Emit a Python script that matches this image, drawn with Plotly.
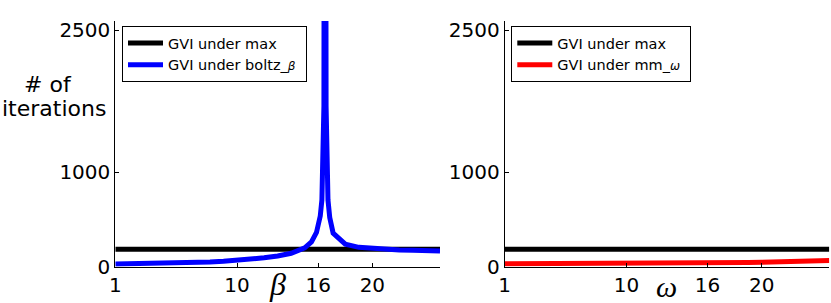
import plotly.graph_objects as go

# ---- data ----
max_x = [1, 5, 10, 15, 20, 25]
max_y = [185, 185, 184, 184, 184, 184]

beta_x = [1, 2, 3, 4, 5, 6, 7, 8, 9, 10, 11, 12, 13, 14, 15, 15.5, 15.87, 16.15, 16.27,
          16.42, 16.5, 16.58, 16.72, 16.85, 17.1, 18, 19, 20, 21, 22, 23, 24, 25]
boltz_y = [28, 30, 32, 35, 38, 41, 45, 51, 58, 67, 79, 94, 114, 142, 200, 262, 362, 537, 706,
           1700, 12000, 1700, 706, 520, 355, 238, 205, 192, 184, 178, 174, 170, 166]

omega_x = list(range(1, 26))
mm_y = [31, 31, 31, 32, 32, 32, 33, 33, 33, 34, 34, 35, 35, 36, 37, 38, 40, 42, 44, 46,
        49, 52, 56, 61, 66]

x_ticks = [1, 10, 16, 20]
y_ticks = [0, 1000, 2500]

W, H = 831, 303
FONT = "DejaVu Sans"

fig = go.Figure()
fig.add_trace(go.Scatter(x=max_x, y=max_y, mode="lines", name="GVI under max&nbsp;&nbsp;&nbsp;&nbsp;&nbsp;",
                         line=dict(color="black", width=5), xaxis="x", yaxis="y",
                         legend="legend"))
fig.add_trace(go.Scatter(x=beta_x, y=boltz_y, mode="lines",
                         name="GVI under boltz_<i><span style='font-size:12px'>β</span></i>&nbsp;",
                         line=dict(color="#0000ff", width=5), xaxis="x", yaxis="y",
                         legend="legend"))
fig.add_trace(go.Scatter(x=max_x, y=max_y, mode="lines", name="GVI under max",
                         line=dict(color="black", width=5), xaxis="x2", yaxis="y2",
                         legend="legend2"))
fig.add_trace(go.Scatter(x=omega_x, y=mm_y, mode="lines",
                         name="GVI under mm_<i><span style='font-size:12px'>ω</span></i>&nbsp;",
                         line=dict(color="#ff0000", width=5), xaxis="x2", yaxis="y2",
                         legend="legend2"))

ydom = [1 - 266.7 / H, 1 - 21 / H]
axis_common = dict(showline=True, linecolor="black", linewidth=1, mirror=False,
                   showgrid=False, zeroline=False, ticks="inside", ticklen=4,
                   tickcolor="black", automargin=False,
                   tickfont=dict(family=FONT, size=20, color="black"))

leg_common = dict(xanchor="left", yanchor="top", bgcolor="white", bordercolor="black",
                  borderwidth=1, itemwidth=35,
                  font=dict(family=FONT, size=14.5, color="black"))

fig.update_layout(
    width=W, height=H,
    margin=dict(l=0, r=0, t=0, b=0, autoexpand=False),
    paper_bgcolor="white", plot_bgcolor="white",
    font=dict(family=FONT, color="black"),
    xaxis=dict(domain=[115.3 / W, 440 / W], range=[1, 25], tickvals=x_ticks,
               ticktext=[str(v) for v in x_ticks], anchor="y", **axis_common),
    yaxis=dict(domain=ydom, range=[0, 2600], tickvals=y_ticks,
               ticktext=[str(v) for v in y_ticks], anchor="x", **axis_common),
    xaxis2=dict(domain=[504.7 / W, 829.3 / W], range=[1, 25], tickvals=x_ticks,
                ticktext=[str(v) for v in x_ticks], anchor="y2", **axis_common),
    yaxis2=dict(domain=ydom, range=[0, 2600], tickvals=y_ticks,
                ticktext=[str(v) for v in y_ticks], anchor="x2", **axis_common),
    legend=dict(x=122 / W, y=1 - 26 / H, **leg_common),
    legend2=dict(x=511.3 / W, y=1 - 26 / H, **leg_common),
    showlegend=True,
)

annots = [
    dict(text="# of", x=47.5 / W, y=1 - 85 / H, xanchor="center", yanchor="middle",
         font=dict(family=FONT, size=22)),
    dict(text="iterations", x=108 / W, y=1 - 108.4 / H, xanchor="right", yanchor="middle",
         font=dict(family=FONT, size=22)),
    dict(text="<i>β</i>", x=277 / W, y=1 - 284 / H, xanchor="center", yanchor="middle",
         font=dict(family="Liberation Serif", size=32)),
    dict(text="<i>ω</i>", x=666 / W, y=1 - 286 / H, xanchor="center", yanchor="middle",
         font=dict(family="Liberation Serif", size=30)),
]
for a in annots:
    fig.add_annotation(xref="paper", yref="paper", showarrow=False, **a)

fig.write_html("out.html", config={"displayModeBar": False},
               post_script="document.body.style.margin='0';document.body.style.overflow='hidden';")
